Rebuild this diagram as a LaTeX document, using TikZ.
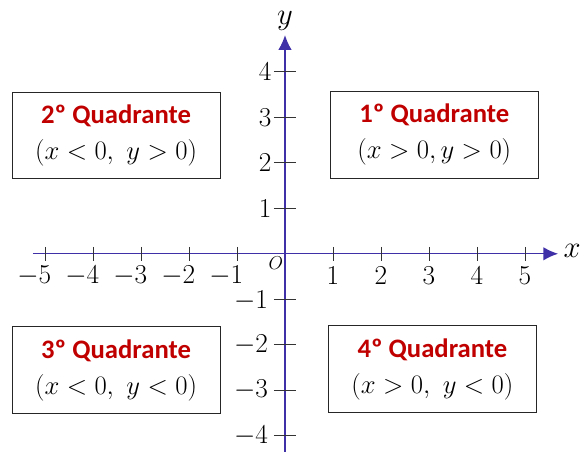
\RequirePackage{fix-cm}
\documentclass[tikz,border=0pt]{standalone}
\usepackage{fontspec}
\newfontfamily\quadfont{Carlito}
\usetikzlibrary{arrows.meta}
\definecolor{axisblue}{RGB}{64,48,168}
\definecolor{quadred}{RGB}{192,0,0}
\tikzset{
  eixo/.style={color=axisblue, line width=1pt, arrows=-{Latex[length=11pt,width=10pt]}},
  marca/.style={color=black!80, line width=0.7pt},
  numero/.style={inner sep=0.3pt, font=\fontsize{20.5}{20.5}\selectfont},
  quadro/.style={draw=black!85, line width=0.8pt, minimum width=156pt, minimum height=65pt,
    align=center, font=\fontsize{20}{27}\selectfont},
}
\newcommand{\quadtitulo}[1]{{\quadfont\bfseries\color{quadred}#1}}
\begin{document}
\begin{tikzpicture}[x=36pt, y=34.1pt]
  \useasboundingbox (-5.9375,-4.352) rectangle (6.146,5.582);

  % eixos
  \coordinate (xini) at (-5.25,0);
  \coordinate (xfim) at (5.69,0);
  \coordinate (yini) at (0,-4.36);
  \coordinate (yfim) at (0,4.81);
  \draw[eixo] (xini) -- (xfim);
  \draw[eixo] (yini) -- (yfim);
  \node[font=\fontsize{23}{23}\selectfont] (xnome) at (5.98,0.06) {$x$};
  \node[font=\fontsize{23}{23}\selectfont] (ynome) at (0,5.12) {$y$};
  \node[font=\fontsize{14}{14}\selectfont] (origem) at (-0.19,-0.2) {$O$};

  % marcas no eixo x
  \draw[marca] (-5,0.154) -- (-5,-0.154);
  \draw[marca] (-4,0.154) -- (-4,-0.154);
  \draw[marca] (-3,0.154) -- (-3,-0.154);
  \draw[marca] (-2,0.154) -- (-2,-0.154);
  \draw[marca] (-1,0.154) -- (-1,-0.154);
  \draw[marca] (1,0.154) -- (1,-0.154);
  \draw[marca] (2,0.154) -- (2,-0.154);
  \draw[marca] (3,0.154) -- (3,-0.154);
  \draw[marca] (4,0.154) -- (4,-0.154);
  \draw[marca] (5,0.154) -- (5,-0.154);
  \node[numero] (xm5) at (-5,-0.49) {\llap{$-$}$5$};
  \node[numero] (xm4) at (-4,-0.49) {\llap{$-$}$4$};
  \node[numero] (xm3) at (-3,-0.49) {\llap{$-$}$3$};
  \node[numero] (xm2) at (-2,-0.49) {\llap{$-$}$2$};
  \node[numero] (xm1) at (-1,-0.49) {\llap{$-$}$1$};
  \node[numero] (xp1) at (1,-0.49) {$1$};
  \node[numero] (xp2) at (2,-0.49) {$2$};
  \node[numero] (xp3) at (3,-0.49) {$3$};
  \node[numero] (xp4) at (4,-0.49) {$4$};
  \node[numero] (xp5) at (5,-0.49) {$5$};

  % marcas no eixo y
  \draw[marca] (-0.23,4) -- (0.23,4);
  \draw[marca] (-0.23,3) -- (0.23,3);
  \draw[marca] (-0.23,2) -- (0.23,2);
  \draw[marca] (-0.23,1) -- (0.23,1);
  \draw[marca] (-0.23,-1) -- (0.23,-1);
  \draw[marca] (-0.23,-2) -- (0.23,-2);
  \draw[marca] (-0.23,-3) -- (0.23,-3);
  \draw[marca] (-0.23,-4) -- (0.23,-4);
  \node[numero, anchor=east] (yp4) at (-0.27,4) {$4$};
  \node[numero, anchor=east] (yp3) at (-0.27,3) {$3$};
  \node[numero, anchor=east] (yp2) at (-0.27,2) {$2$};
  \node[numero, anchor=east] (yp1) at (-0.27,1) {$1$};
  \node[numero, anchor=east] (ym1) at (-0.34,-1.03) {$-1$};
  \node[numero, anchor=east] (ym2) at (-0.34,-2) {$-2$};
  \node[numero, anchor=east] (ym3) at (-0.34,-3) {$-3$};
  \node[numero, anchor=east] (ym4) at (-0.34,-4) {$-4$};

  % quadrantes
  \node[quadro] (quad1) at (3.11,2.615) {\quadtitulo{1º Quadrante}\\$(x>0,y>0)$};
  \node[quadro] (quad2) at (-3.52,2.60) {\quadtitulo{2º Quadrante}\\$(x<0,\ y>0)$};
  \node[quadro] (quad3) at (-3.52,-2.56) {\quadtitulo{3º Quadrante}\\$(x<0,\ y<0)$};
  \node[quadro] (quad4) at (3.07,-2.54) {\quadtitulo{4º Quadrante}\\$(x>0,\ y<0)$};
\end{tikzpicture}
\end{document}
